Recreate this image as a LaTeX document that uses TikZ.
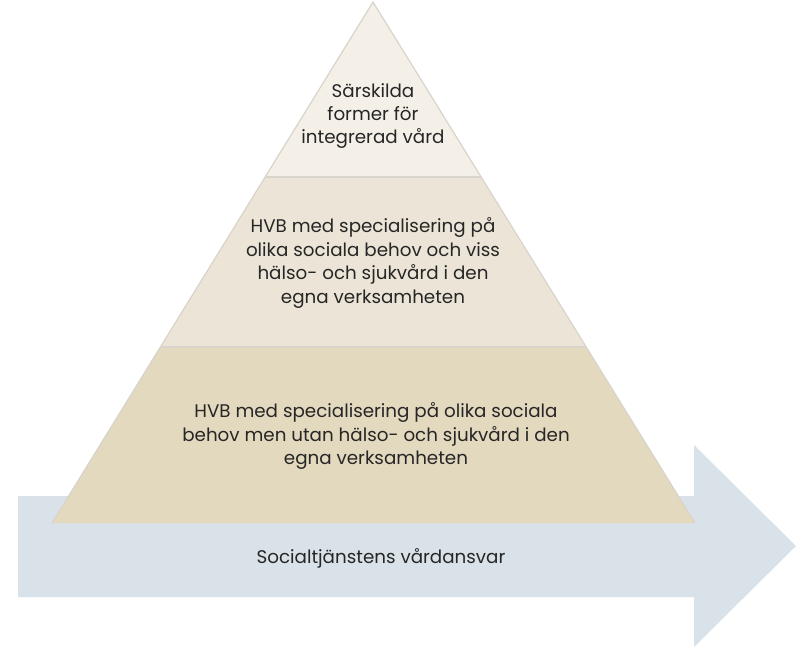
\documentclass[tikz,border=0pt]{standalone}
\usepackage{fontspec}
\setmainfont{Poppins}
\definecolor{topband}{HTML}{F4F0E8}
\definecolor{midband}{HTML}{ECE5D7}
\definecolor{lowband}{HTML}{E3D9BF}
\definecolor{arrowfill}{HTML}{D9E2E8}
\definecolor{edgegray}{HTML}{D8D4CB}
\tikzset{
  bandtext/.style={align=center, font=\fontsize{18.3}{23.4}\selectfont, text=black!85},
}
\begin{document}
\begin{tikzpicture}[x=1pt,y=-1pt]
	\useasboundingbox (0,0) rectangle (805,654);
	% arrow behind the pyramid
	\fill[arrowfill] (18,496) -- (694,496) -- (694,445) -- (796,546) -- (694,647) -- (694,597) -- (18,597) -- cycle;
	% pyramid bands
	\fill[lowband] (52,523) -- (160,347) -- (586,347) -- (695,523) -- cycle;
	\fill[midband] (160,347) -- (265,177) -- (481,177) -- (586,347) -- cycle;
	\fill[topband] (265,177) -- (373,2) -- (481,177) -- cycle;
	\draw[edgegray, line width=1.2pt] (52,523) -- (373,2) -- (695,523);
	\draw[edgegray, line width=1.5pt] (265,177) -- (481,177);
	\draw[edgegray, line width=1.5pt] (160,347) -- (586,347);
	\node[bandtext] (toptext) at (373,116) {Särskilda\\former för\\integrerad vård};
	\node[bandtext] (midtext) at (373,263) {HVB med specialisering på\\olika sociala behov och viss\\hälso- och sjukvård i den\\egna verksamheten};
	\node[bandtext] (lowtext) at (376,436) {HVB med specialisering på olika sociala\\behov men utan hälso- och sjukvård i den\\egna verksamheten};
	\node[bandtext] (arrowtext) at (381,558) {Socialtjänstens vårdansvar};
\end{tikzpicture}
\end{document}
